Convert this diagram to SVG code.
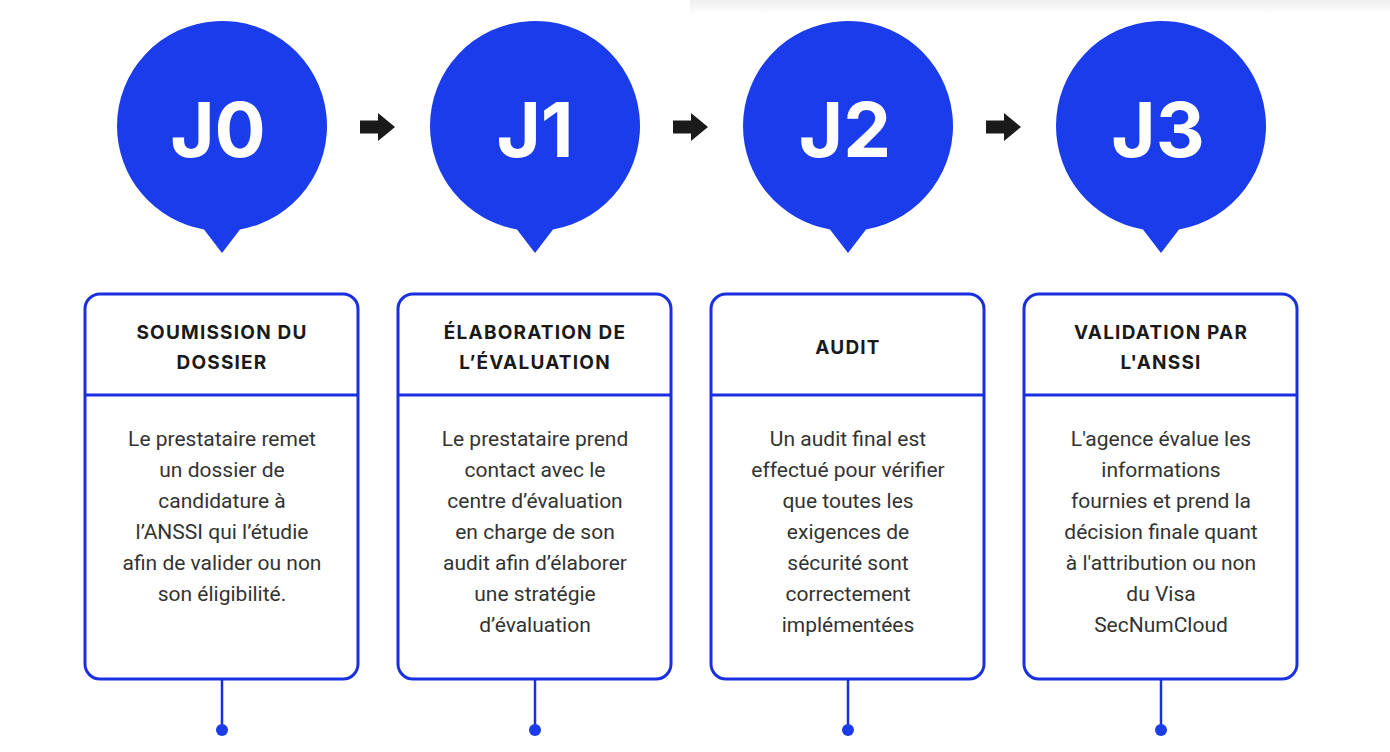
<svg xmlns="http://www.w3.org/2000/svg" width="1390" height="752" viewBox="0 0 1390 752">
<defs>
<linearGradient id="topfade" x1="0" y1="0" x2="0" y2="1">
<stop offset="0" stop-color="#eeeeee"/>
<stop offset="1" stop-color="#ffffff"/>
</linearGradient>
<path id="bubble" d="M-105 0 A105 105 0 1 1 18 103.4 L0 127 L-18 103.4 A105 105 0 0 1 -105 0 Z"/>
<path id="arrow" d="M0 -6.5 L18 -6.5 L18 -14 L35 0 L18 14 L18 6.5 L0 6.5 Z"/>
</defs>
<style>
.bub{fill:#1a3ceb;}
.jl{font-family:Inter,"Liberation Sans",sans-serif;font-weight:700;font-size:76px;fill:#ffffff;text-anchor:middle;}
.box{fill:#ffffff;stroke:#1a2fe0;stroke-width:3;}
.div{stroke:#1a2fe0;stroke-width:3;}
.ttl{font-family:Inter,"Liberation Sans",sans-serif;font-weight:700;font-size:19px;letter-spacing:1.2px;fill:#1a1a1a;text-anchor:middle;}
.bd{font-family:Roboto,"Liberation Sans",sans-serif;font-size:21px;fill:#333333;text-anchor:middle;}
.stem{stroke:#1a2fe0;stroke-width:2.5;}
.dot{fill:#1a3ceb;}
.arr{fill:#1a1a1a;}
</style>
<rect x="0" y="0" width="1390" height="752" fill="#ffffff"/>
<rect x="690" y="0" width="700" height="14" fill="url(#topfade)"/>

<g id="connectors">
<use href="#arrow" class="arr" x="360" y="127"/>
<use href="#arrow" class="arr" x="673" y="127"/>
<use href="#arrow" class="arr" x="986" y="127"/>
<line class="stem" x1="222" y1="679" x2="222" y2="730"/>
<circle class="dot" cx="222" cy="730" r="6"/>
<line class="stem" x1="535" y1="679" x2="535" y2="730"/>
<circle class="dot" cx="535" cy="730" r="6"/>
<line class="stem" x1="848" y1="679" x2="848" y2="730"/>
<circle class="dot" cx="848" cy="730" r="6"/>
<line class="stem" x1="1161" y1="679" x2="1161" y2="730"/>
<circle class="dot" cx="1161" cy="730" r="6"/>
</g>

<g id="J0">
<use href="#bubble" class="bub" x="222" y="126"/>
<text class="jl" x="218" y="157">J0</text>
</g>
<g id="J1">
<use href="#bubble" class="bub" x="535" y="126"/>
<text class="jl" x="535" y="157">J1</text>
</g>
<g id="J2">
<use href="#bubble" class="bub" x="848" y="126"/>
<text class="jl" x="845" y="157">J2</text>
</g>
<g id="J3">
<use href="#bubble" class="bub" x="1161" y="126"/>
<text class="jl" x="1158" y="157">J3</text>
</g>

<g id="box0">
<rect class="box" x="85" y="294" width="273" height="385" rx="15"/>
<line class="div" x1="85" y1="395" x2="358" y2="395"/>
<text class="ttl" x="222" y="339">SOUMISSION DU</text>
<text class="ttl" x="222" y="369">DOSSIER</text>
<text class="bd" x="222" y="446">Le prestataire remet</text>
<text class="bd" x="222" y="477">un dossier de</text>
<text class="bd" x="222" y="508">candidature à</text>
<text class="bd" x="222" y="539">l’ANSSI qui l’étudie</text>
<text class="bd" x="222" y="570">afin de valider ou non</text>
<text class="bd" x="222" y="601">son éligibilité.</text>
</g>

<g id="box1">
<rect class="box" x="398" y="294" width="273" height="385" rx="15"/>
<line class="div" x1="398" y1="395" x2="671" y2="395"/>
<text class="ttl" x="535" y="339">ÉLABORATION DE</text>
<text class="ttl" x="535" y="369">L’ÉVALUATION</text>
<text class="bd" x="535" y="446">Le prestataire prend</text>
<text class="bd" x="535" y="477">contact avec le</text>
<text class="bd" x="535" y="508">centre d’évaluation</text>
<text class="bd" x="535" y="539">en charge de son</text>
<text class="bd" x="535" y="570">audit afin d’élaborer</text>
<text class="bd" x="535" y="601">une stratégie</text>
<text class="bd" x="535" y="632">d’évaluation</text>
</g>

<g id="box2">
<rect class="box" x="711" y="294" width="273" height="385" rx="15"/>
<line class="div" x1="711" y1="395" x2="984" y2="395"/>
<text class="ttl" x="848" y="354">AUDIT</text>
<text class="bd" x="848" y="446">Un audit final est</text>
<text class="bd" x="848" y="477">effectué pour vérifier</text>
<text class="bd" x="848" y="508">que toutes les</text>
<text class="bd" x="848" y="539">exigences de</text>
<text class="bd" x="848" y="570">sécurité sont</text>
<text class="bd" x="848" y="601">correctement</text>
<text class="bd" x="848" y="632">implémentées</text>
</g>

<g id="box3">
<rect class="box" x="1024" y="294" width="273" height="385" rx="15"/>
<line class="div" x1="1024" y1="395" x2="1297" y2="395"/>
<text class="ttl" x="1161" y="339">VALIDATION PAR</text>
<text class="ttl" x="1161" y="369">L'ANSSI</text>
<text class="bd" x="1161" y="446">L'agence évalue les</text>
<text class="bd" x="1161" y="477">informations</text>
<text class="bd" x="1161" y="508">fournies et prend la</text>
<text class="bd" x="1161" y="539">décision finale quant</text>
<text class="bd" x="1161" y="570">à l'attribution ou non</text>
<text class="bd" x="1161" y="601">du Visa</text>
<text class="bd" x="1161" y="632">SecNumCloud</text>
</g>
</svg>
